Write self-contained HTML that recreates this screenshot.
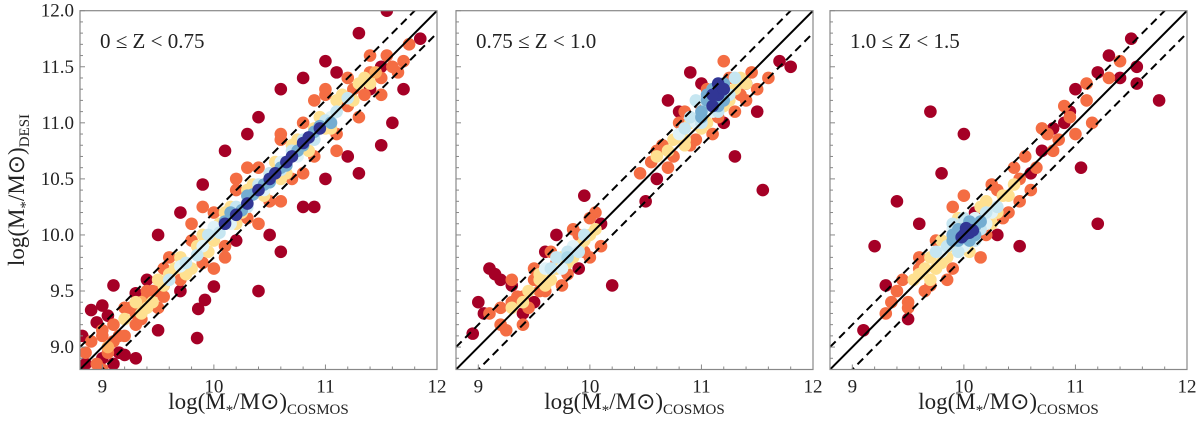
<!DOCTYPE html>
<html><head><meta charset="utf-8"><style>
body{margin:0;background:#fff;width:1200px;height:427px;overflow:hidden}
svg{display:block;font-family:"Liberation Serif",serif}
</style></head><body>
<svg id="chart" width="1200" height="427" viewBox="0 0 1200 427"></svg>
<script>
const xTicks=[9,10,11,12];
const yTicks=[9.0,9.5,10.0,10.5,11.0,11.5,12.0];
const panelTitles=["0 \u2264 Z < 0.75","0.75 \u2264 Z < 1.0","1.0 \u2264 Z < 1.5"];
const offsetBand=0.2;
// points: [x, y, density 0..1]
const panel1=[[8.82,9.1,0],[8.9,9.33,0],[8.95,9.22,0],[9.0,9.37,0],[9.05,9.28,0],[9.1,8.85,0],[9.15,8.95,0],[9.2,8.93,0],[9.3,9.48,0],[9.4,9.6,0],[9.55,9.55,0],[9.7,9.5,0],[9.85,9.08,0],[9.86,9.34,0],[9.92,9.42,0],[10.0,9.54,0],[10.4,9.5,0],[9.5,10.0,0],[9.7,10.2,0],[9.9,10.45,0],[10.1,10.75,0],[10.3,10.9,0],[10.4,11.05,0],[10.6,11.3,0],[10.8,11.4,0],[11.0,11.55,0],[11.1,11.45,0],[11.3,11.8,0],[11.55,12.0,0],[11.85,11.75,0],[10.9,10.25,0],[11.0,10.5,0],[10.8,10.25,0],[11.3,10.55,0],[11.5,10.8,0],[11.6,11.0,0],[11.2,10.7,0],[10.6,9.85,0],[10.5,10.0,0],[10.2,9.95,0],[9.5,9.15,0],[9.3,8.9,0],[11.7,11.3,0],[11.4,11.3,0],[11.5,11.5,0],[9.1,9.55,0],[8.85,8.85,0],[9.0,8.9,0],
[8.9,8.75,.2],[9.0,9.15,.2],[9.1,9.05,.2],[9.2,9.35,.2],[9.3,9.2,.2],[9.4,9.5,.2],[9.5,9.35,.2],[9.6,9.8,.2],[9.7,9.6,.2],[9.8,9.95,.2],[9.9,9.75,.2],[10.0,10.2,.2],[10.1,9.9,.2],[10.2,10.4,.2],[10.3,10.15,.2],[10.4,10.6,.2],[10.5,10.3,.2],[10.6,10.85,.2],[10.7,10.5,.2],[10.8,11.0,.2],[10.9,10.7,.2],[11.0,11.25,.2],[11.1,10.9,.2],[11.2,11.4,.2],[11.3,11.05,.2],[11.4,11.6,.2],[11.5,11.25,.2],[11.6,11.5,.2],[11.7,11.55,.2],[9.05,9.0,.3],[9.35,9.4,.3],[11.45,11.45,.3],
[8.85,8.95,.2],[8.95,8.85,.2],[9.0,9.1,.2],[9.05,8.95,.2],[9.1,9.2,.2],[9.15,9.1,.2],[9.2,9.1,.2],[9.25,9.35,.2],[9.3,9.3,.2],[9.35,9.25,.2],[9.4,9.45,.2],[9.45,9.5,.2],[9.5,9.5,.2],[9.55,9.45,.2],[9.55,9.7,.2],[11.2,11.15,.2],[11.25,11.3,.2],[11.35,11.25,.2],[11.4,11.45,.2],[11.5,11.4,.2],[11.55,11.6,.2],[11.65,11.45,.2],[11.75,11.7,.2],[8.9,9.05,.2],[9.0,8.8,.2],
[9.8,10.1,.2],[10.0,9.7,.2],[10.2,10.5,.2],[10.4,10.1,.2],[10.6,10.9,.2],[10.8,10.55,.2],[11.0,11.3,.2],[10.3,10.6,.2],[10.6,10.3,.2],[9.9,10.25,.2],[10.1,9.8,.2],[10.9,11.2,.2],[11.1,10.75,.2],
[9.2,9.25,.45],[9.4,9.35,.45],[9.6,9.65,.45],[9.7,9.8,.45],[9.8,9.7,.45],[9.9,10.0,.45],[10.0,9.95,.45],[10.1,10.2,.45],[10.2,10.1,.45],[10.3,10.4,.45],[10.5,10.55,.45],[10.6,10.5,.45],[10.7,10.8,.45],[10.9,10.95,.45],[11.0,10.95,.45],[11.1,11.2,.45],[11.3,11.35,.45],[11.4,11.35,.45],
[9.45,9.4,.45],[9.5,9.6,.45],[9.55,9.55,.45],[9.65,9.7,.45],[9.75,9.65,.45],[9.85,9.9,.45],[9.95,9.85,.45],[10.05,10.1,.45],[10.15,10.25,.45],[10.25,10.2,.45],[10.35,10.45,.45],[10.45,10.35,.45],[10.55,10.65,.45],[10.65,10.55,.45],[10.75,10.85,.45],[10.85,10.75,.45],[10.95,11.05,.45],[11.05,10.95,.45],[11.15,11.25,.45],[11.25,11.2,.45],[11.35,11.4,.45],[9.35,9.3,.45],[9.3,9.4,.45],
[9.7,9.72,.65],[9.9,9.9,.65],[10.0,10.07,.65],[10.15,10.1,.65],[10.3,10.3,.65],[10.45,10.4,.65],[10.6,10.65,.65],[10.75,10.7,.65],[10.9,10.9,.65],[11.05,11.05,.65],
[9.75,9.75,.7],[9.85,9.82,.7],[9.95,10.0,.7],[10.05,10.02,.7],[10.2,10.25,.7],[10.3,10.25,.7],[10.4,10.45,.7],[10.5,10.55,.7],[10.6,10.58,.7],[10.7,10.75,.7],[10.8,10.85,.7],[10.9,10.85,.7],[11.0,11.02,.7],[11.1,11.1,.7],[11.2,11.22,.7],[9.6,9.6,.7],
[10.1,10.12,.85],[10.25,10.22,.85],[10.35,10.36,.85],[10.5,10.47,.85],[10.65,10.62,.85],[10.8,10.8,.85],[10.95,10.97,.85],
[10.15,10.2,.85],[10.3,10.35,.85],[10.45,10.45,.85],[10.6,10.6,.85],[10.75,10.75,.85],[10.9,10.92,.85],[11.05,11.0,.85],
[10.2,10.18,1],[10.4,10.4,1],[10.55,10.55,1],[10.7,10.7,1],[10.85,10.87,1],[10.3,10.28,1],[10.5,10.5,1],[10.65,10.65,1],[10.8,10.82,1],[10.95,10.95,1],[10.1,10.1,1]];
const panel2=[[8.95,9.12,0],[9.1,9.7,0],[9.15,9.65,0],[9.2,9.6,0],[9.3,9.55,0],[9.05,9.3,0],[9.4,9.3,0],[9.5,9.4,0],[9.6,9.85,0],[9.7,10.0,0],[9.9,9.7,0],[9.95,10.35,0],[10.1,10.1,0],[10.2,9.55,0],[10.5,10.3,0],[10.6,10.5,0],[10.9,11.45,0],[11.0,11.35,0],[11.2,11.0,0],[11.3,10.7,0],[11.5,11.1,0],[11.55,10.4,0],[11.7,11.55,0],[11.8,11.5,0],[10.7,11.2,0],[10.8,11.1,0],[11.4,11.35,0],[9.0,9.4,0],
[9.2,9.2,.2],[9.3,9.4,.2],[9.4,9.45,.2],[9.5,9.6,.2],[9.6,9.5,.2],[9.7,9.75,.2],[9.8,9.65,.2],[9.9,10.0,.2],[10.0,9.8,.2],[10.0,10.15,.2],[10.6,10.75,.2],[10.7,10.6,.2],[10.8,11.0,.2],[10.9,10.8,.2],[11.0,11.15,.2],[11.1,10.9,.2],[11.2,11.25,.2],[11.3,11.1,.2],[11.4,11.2,.2],[11.6,11.4,.2],[11.2,11.55,.2],
[9.1,9.3,.2],[9.2,9.35,.2],[9.25,9.15,.2],[9.35,9.45,.2],[9.45,9.35,.2],[9.5,9.7,.2],[9.55,9.5,.2],[9.65,9.85,.2],[9.75,9.55,.2],[9.85,10.05,.2],[9.95,9.85,.2],[10.05,10.2,.2],[10.1,9.9,.2],[10.45,10.55,.2],[10.55,10.65,.2],[10.65,10.8,.2],[10.75,10.7,.2],[10.85,11.1,.2],[10.95,10.85,.2],[11.05,11.3,.2],[11.15,11.05,.2],[11.25,11.4,.2],[11.35,11.25,.2],[11.45,11.45,.2],[11.5,11.3,.2],[9.3,9.6,.2],[9.4,9.2,.2],
[9.4,9.4,.45],[9.55,9.6,.45],[9.65,9.6,.45],[9.75,9.8,.45],[9.85,9.8,.45],[9.95,9.95,.45],[10.7,10.75,.45],[10.85,10.85,.45],[11.0,10.95,.45],[11.25,11.2,.45],[11.35,11.4,.45],[11.1,11.3,.45],
[9.3,9.35,.45],[9.45,9.5,.45],[9.55,9.65,.45],[9.6,9.55,.45],[9.7,9.7,.45],[9.8,9.75,.45],[9.9,9.9,.45],[10.0,10.0,.45],[10.05,10.05,.45],[10.6,10.7,.45],[10.75,10.85,.45],[10.85,10.8,.45],[10.9,11.0,.45],[11.05,11.0,.45],[11.15,11.3,.45],[11.3,11.3,.45],[11.4,11.35,.45],[11.2,11.15,.45],
[9.6,9.7,.65],[9.75,9.7,.65],[9.85,9.9,.65],[10.8,10.9,.65],[10.95,11.0,.65],[11.1,11.1,.65],[11.2,11.3,.65],
[9.65,9.7,.7],[9.7,9.8,.7],[9.8,9.85,.7],[9.9,9.85,.7],[9.95,10.0,.7],[10.85,10.95,.7],[10.9,11.05,.7],[11.0,11.0,.7],[11.05,11.15,.7],[11.15,11.1,.7],[11.25,11.25,.7],[11.3,11.4,.7],[10.95,11.2,.7],
[11.0,11.1,.85],[11.1,11.2,.85],[11.2,11.2,.85],[11.05,11.25,.85],[9.8,9.8,.75],
[11.0,11.05,.85],[11.1,11.3,.85],[11.15,11.15,.85],[11.2,11.35,.85],[11.05,11.2,.85],
[11.1,11.15,1],[11.15,11.25,1],[11.1,11.25,1],[11.2,11.3,1],[11.15,11.35,1]];
const panel3=[[9.3,9.55,0],[9.2,9.9,0],[9.4,10.3,0],[9.6,10.1,0],[9.7,11.1,0],[9.8,10.55,0],[10.0,10.9,0],[10.1,10.2,0],[10.3,10.0,0],[10.5,9.9,0],[10.6,10.55,0],[10.7,10.75,0],[10.8,10.95,0],[10.9,11.0,0],[11.0,11.3,0],[11.05,10.6,0],[11.2,11.45,0],[11.3,11.6,0],[11.5,11.75,0],[11.4,11.4,0],[11.55,11.5,0],[11.75,11.2,0],[11.55,11.35,0],[11.2,10.1,0],[9.1,9.15,0],[9.5,9.25,0],[10.95,11.1,0],
[9.3,9.3,.2],[9.4,9.5,.2],[9.5,9.4,.2],[9.6,9.7,.2],[9.7,9.55,.2],[9.8,9.9,.2],[9.9,9.7,.2],[10.0,10.35,.2],[10.2,10.0,.2],[10.3,10.4,.2],[10.4,10.2,.2],[10.5,10.5,.2],[10.6,10.4,.2],[10.7,10.95,.2],[10.8,10.75,.2],[10.9,11.15,.2],[11.1,11.2,.2],
[9.35,9.4,.2],[9.45,9.6,.2],[9.5,9.35,.2],[9.6,9.8,.2],[9.65,9.5,.2],[9.75,9.95,.2],[9.85,9.6,.2],[9.9,10.25,.2],[10.15,9.8,.2],[10.25,10.45,.2],[10.35,10.15,.2],[10.45,10.6,.2],[10.5,10.3,.2],[10.55,10.7,.2],[10.65,10.6,.2],[10.75,10.9,.2],[10.85,10.85,.2],[10.95,11.05,.2],[11.0,10.9,.2],[11.1,11.35,.2],[11.15,11.0,.2],[11.3,11.4,.2],[11.4,11.55,.2],
[9.6,9.65,.45],[9.7,9.8,.45],[9.8,9.75,.45],[10.0,10.15,.45],[10.1,10.05,.45],[10.2,10.3,.45],[10.3,10.2,.45],[10.4,10.35,.45],[9.9,9.9,.45],
[9.55,9.6,.45],[9.65,9.7,.45],[9.75,9.7,.45],[9.8,9.95,.45],[9.85,9.8,.45],[9.95,10.15,.45],[10.05,9.85,.45],[10.15,10.25,.45],[10.25,10.1,.45],[10.35,10.35,.45],[10.45,10.45,.45],[9.7,9.6,.45],
[9.8,9.85,.65],[9.9,10.05,.65],[10.0,9.9,.65],[10.1,10.15,.65],[10.2,10.1,.65],[10.25,10.2,.65],
[9.75,9.85,.7],[9.85,9.9,.7],[9.95,9.85,.7],[10.0,10.15,.7],[10.1,9.95,.7],[10.15,10.05,.7],[10.2,10.2,.7],[10.3,10.25,.7],[9.9,10.1,.7],
[9.9,9.95,.85],[10.0,10.05,.85],[10.1,10.0,.85],[10.05,10.12,.85],
[9.9,10.0,.85],[9.95,10.05,.85],[10.05,9.95,.85],[10.1,10.08,.85],[10.15,10.12,.85],[9.95,9.95,.85],
[10.0,10.0,1],[10.05,10.02,1],[9.98,9.98,1],[10.02,10.06,1],[10.08,10.04,1]];
const panels=[panel1,panel2,panel3];
const xMin=8.8,xMax=12,yMin=8.8,yMax=12;
const lefts=[80,456,830],W=357,top0=10.7,bot=369.5;
const ns="http://www.w3.org/2000/svg",svg=document.getElementById('chart');
function mk(t,a,p){const e=document.createElementNS(ns,t);for(const k in a)e.setAttribute(k,a[k]);(p||svg).appendChild(e);return e;}
const stops=[[0,[165,0,38]],[.1,[215,48,39]],[.2,[244,109,67]],[.3,[253,174,97]],[.45,[254,224,144]],[.55,[255,255,191]],[.65,[224,243,248]],[.75,[171,217,233]],[.85,[116,173,209]],[.95,[69,117,180]],[1,[49,54,149]]];
function col(v){for(let i=1;i<stops.length;i++){if(v<=stops[i][0]){const a=stops[i-1],b=stops[i],t=(v-a[0])/(b[0]-a[0]);return 'rgb('+a[1].map((c,j)=>Math.round(c+(b[1][j]-c)*t)).join(',')+')';}}return 'rgb(49,54,149)';}
panels.forEach((pts,pi)=>{
 const L=lefts[pi];
 const sx=v=>L+(v-xMin)/(xMax-xMin)*W, sy=v=>bot-(v-yMin)/(yMax-yMin)*(bot-top0);
 const g=mk('g',{});
 
 
 const cp=mk('clipPath',{id:'c'+pi},g);mk('rect',{x:L,y:top0,width:W,height:bot-top0},cp);
 const pg=mk('g',{'clip-path':'url(#c'+pi+')'},g);
 [...pts].sort((a,b)=>a[2]-b[2]).forEach(p=>{
  const c=mk('circle',{cx:sx(p[0]),cy:sy(p[1]),r:6.3,fill:col(p[2])},pg);
  
  
 });
 [[0,'none'],[offsetBand,'8,5'],[-offsetBand,'8,5']].forEach(([o,d])=>{
  const l=mk('line',{x1:sx(xMin),y1:sy(xMin+o),x2:sx(xMax),y2:sy(xMax+o),stroke:'#000','stroke-width':2,'stroke-dasharray':d},pg);
  
  
 });
 const fr=mk('rect',{x:L,y:top0,width:W,height:bot-top0,fill:'none',stroke:'#888','stroke-width':1.2},g);
 
 
 for(let v=9;v<=12.001;v+=0.2){const x=sx(v),maj=Math.abs(v-Math.round(v))<1e-6;mk('line',{x1:x,y1:bot,x2:x,y2:bot-(maj?5:3),stroke:'#888'},g);}
 for(let v=8.9;v<=12.001;v+=0.1){const y=sy(v),maj=Math.abs(v*2-Math.round(v*2))<1e-6;mk('line',{x1:L,y1:y,x2:L+(maj?5:3),y2:y,stroke:'#888'},g);}
 xTicks.forEach(v=>{const t=mk('text',{x:sx(v),y:bot+23,'font-size':19,'text-anchor':'middle',fill:'#222'},g);t.textContent=v;
  });
 if(pi===0)yTicks.forEach(v=>{const t=mk('text',{x:L-6,y:sy(v)+6,'font-size':19,'text-anchor':'end',fill:'#222'},g);t.textContent=v.toFixed(1);
  });
 const tt=mk('text',{x:L+20,y:48,'font-size':21,fill:'#222'},g);tt.textContent=panelTitles[pi];
 
 const xl=mk('text',{x:L+W/2,y:409,'font-size':23,'text-anchor':'middle',fill:'#222'},g);
 xl.innerHTML='log(M<tspan font-size="15" dy="6">*</tspan><tspan dy="-6">/M\u2299)</tspan><tspan font-size="15" dy="5">COSMOS</tspan>';
 
});
const yl=mk('text',{x:0,y:0,'font-size':23,'text-anchor':'middle',fill:'#222',transform:'translate(24,190) rotate(-90)'});
yl.innerHTML='log(M<tspan font-size="15" dy="6">*</tspan><tspan dy="-6">/M\u2299)</tspan><tspan font-size="15" dy="5">DESI</tspan>';

</script>
</body></html>
